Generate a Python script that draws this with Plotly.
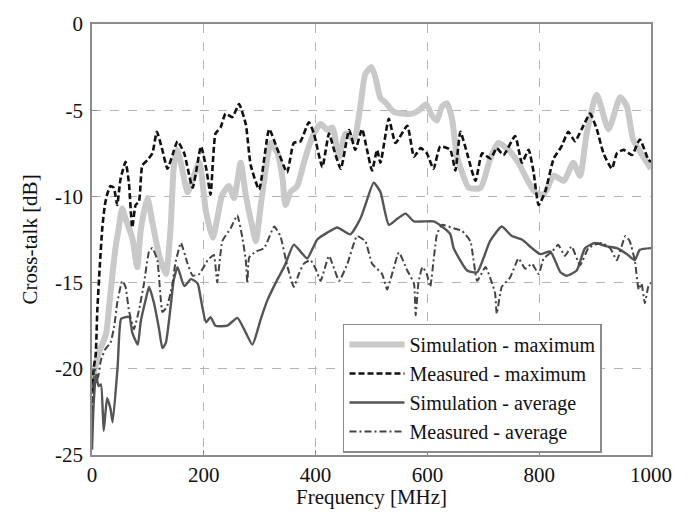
import plotly.graph_objects as go

# ---- data ----
sim_max_f = [0, 5, 13, 25, 30, 36, 42, 48, 54, 60,
             72, 81, 87, 99, 108, 120, 132, 141, 146, 152,
             159, 171, 180, 192, 204, 216, 224, 233, 245, 254,
             266, 275, 287, 293, 302, 314, 320, 332, 341, 346,
             355, 367, 379, 388, 397, 409, 421, 430, 442, 454,
             468, 480, 489, 500, 507, 516, 525, 540, 558, 573,
             585, 598, 608, 617, 626, 635, 644, 653, 662, 674,
             695, 712, 727, 745, 763, 778, 793, 808, 826, 844,
             861, 873, 885, 903, 924, 945, 957, 968, 986, 1000]
sim_max_db = [-21, -20, -19, -18, -16.6, -14.7, -13, -11.8, -10.7, -11.3,
              -12.4, -14.1, -12.0, -10.1, -11.5, -13.4, -14.5, -11.6, -8.4, -7.3,
              -8.05, -9.75, -9.0, -8.05, -10.9, -12.4, -11.3, -9.9, -9.4, -10.1,
              -8.05, -9.9, -11.8, -12.6, -10.5, -7.7, -6.9, -7.5, -9.0, -10.5,
              -9.75, -9.4, -8.05, -7.1, -6.35, -5.8, -6.15, -6.0, -7.7, -6.35,
              -6.7, -4.8, -2.9, -2.5, -3.1, -4.3, -4.55, -5.1, -5.2, -5.2,
              -5.0, -4.65, -5.3, -5.6, -4.8, -4.6, -5.5, -7.7, -8.6, -9.5,
              -9.5, -7.85, -6.9, -7.3, -8.05, -9.0, -9.75, -9.9, -8.8, -9.1,
              -8.05, -8.8, -6.35, -4.1, -6.1, -4.25, -4.8, -6.7, -7.7, -8.4]

meas_max_f = [0, 3, 6.6, 9.5, 14, 18.5, 23, 27, 33, 39,
              45, 51, 60, 66, 72, 78, 84, 90, 99, 108,
              116, 125, 135, 144, 153, 165, 180, 195, 205, 212,
              221, 230, 239, 251, 263, 275, 284, 299, 317, 332,
              349, 361, 373, 388, 397, 412, 424, 433, 445, 460,
              471, 483, 492, 501, 510, 516, 531, 543, 564, 576,
              588, 599, 611, 623, 641, 650, 659, 671, 686, 698,
              713, 724, 736, 757, 769, 781, 790, 799, 811, 826,
              840, 852, 864, 876, 891, 903, 915, 930, 939, 951,
              966, 980, 995, 1000]
meas_max_db = [-23, -20, -19.2, -16.6, -14, -11.8, -10.5, -9.9, -9.4, -9.5,
               -10.5, -9.0, -8.0, -9.2, -11.8, -10.5, -10.3, -8.2, -7.9, -7.5,
               -6.25, -7.2, -8.4, -7.6, -6.8, -7.5, -9.5, -7.1, -8.5, -9.9,
               -6.35, -6.0, -5.2, -5.4, -4.65, -5.8, -8.2, -9.6, -6.1, -7.3,
               -8.6, -6.9, -6.8, -5.7, -6.35, -8.3, -6.35, -7.3, -8.4, -6.15,
               -7.3, -6.1, -7.3, -8.5, -7.3, -8.05, -5.5, -6.9, -5.9, -7.7,
               -7.2, -7.5, -8.4, -7.1, -7.3, -8.5, -6.25, -7.5, -9.1, -7.5,
               -7.8, -7.2, -7.6, -6.5, -8.05, -7.3, -8.6, -10.5, -9.7, -7.8,
               -7.1, -6.25, -6.8, -6.1, -5.2, -6.1, -7.5, -8.4, -7.5, -7.3,
               -7.6, -6.7, -7.85, -8.0]

sim_avg_f = [0, 3, 7, 12, 16, 21, 27, 33, 37, 46,
             52, 60, 67, 72, 82, 87, 96, 102, 111, 120,
             126, 132, 141, 146, 153, 165, 177, 189, 195, 204,
             212, 221, 242, 260, 272, 287, 302, 314, 332, 345,
             361, 373, 385, 403, 421, 439, 462, 480, 489, 504,
             516, 531, 546, 561, 576, 594, 611, 626, 641, 647,
             671, 689, 712, 733, 751, 769, 787, 802, 820, 838,
             849, 867, 882, 900, 921, 939, 957, 971, 980, 1000]
sim_avg_db = [-24.7, -22, -20.4, -21, -20.9, -23.6, -21.7, -22.3, -23.1, -19.8,
              -17.1, -17.0, -17.0, -17.9, -18.6, -17.3, -16.0, -15.25, -16.2, -17.7,
              -18.8, -18.5, -16.3, -14.9, -14.1, -15.2, -14.8, -15.05, -16.0, -17.3,
              -17.0, -17.5, -17.5, -17.05, -17.7, -18.6, -17.1, -16.0, -14.8, -14.0,
              -12.8, -13.2, -13.6, -12.5, -12.1, -11.8, -12.2, -11.3, -10.5, -9.2,
              -9.75, -11.65, -11.3, -11.0, -11.45, -11.45, -11.45, -11.75, -12.2, -13.0,
              -14.3, -14.4, -12.6, -11.75, -12.3, -12.5, -13.0, -13.35, -13.2, -14.4,
              -14.6, -14.3, -13.0, -12.7, -12.9, -13.0, -13.35, -13.7, -13.1, -13.0]

meas_avg_f = [0, 5, 10, 16, 24, 33, 40, 45, 54, 60,
              66, 75, 84, 93, 102, 108, 117, 126, 134, 143,
              149, 159, 171, 180, 192, 207, 218, 224, 233, 248,
              260, 269, 275, 278, 281, 293, 308, 326, 337, 349,
              361, 370, 379, 391, 400, 409, 424, 442, 457, 474,
              489, 501, 519, 528, 549, 564, 576, 579, 584, 591,
              599, 605, 617, 626, 647, 662, 677, 689, 704, 721,
              724, 733, 748, 763, 775, 787, 799, 808, 823, 834,
              846, 858, 873, 888, 900, 912, 927, 939, 954, 962,
              971, 978, 983, 989, 995, 1000]
meas_avg_db = [-22, -20, -20.6, -19.5, -18.85, -18.5, -17.5, -16.2, -14.9, -15.25,
               -16.6, -17.7, -16.6, -15.05, -13.2, -13.0, -13.7, -16.7, -16.4, -15.25,
               -13.9, -12.7, -13.9, -14.6, -14.5, -13.7, -13.4, -15.0, -12.6, -11.85,
               -11.1, -12.4, -13.7, -15.05, -13.55, -13.2, -13.0, -11.75, -12.3, -14.0,
               -15.25, -14.5, -13.9, -13.7, -14.2, -14.9, -13.45, -14.9, -13.9, -12.3,
               -12.6, -13.9, -14.5, -15.4, -13.25, -14.3, -15.05, -16.9, -15.0, -14.1,
               -14.5, -15.25, -12.2, -11.65, -11.85, -12.0, -12.6, -14.9, -14.1, -15.6,
               -16.8, -15.25, -14.7, -13.6, -14.2, -13.9, -14.5, -13.6, -13.2, -12.8,
               -13.45, -12.9, -14.0, -13.0, -12.8, -12.7, -13.0, -13.7, -12.3, -12.6,
               -13.7, -15.4, -15.05, -16.2, -15.25, -15.0]

x_ticks = [0, 200, 400, 600, 800, 1000]
y_ticks = [-25, -20, -15, -10, -5, 0]

FONT = "Liberation Serif"

fig = go.Figure()
fig.add_trace(go.Scatter(x=sim_max_f, y=sim_max_db, mode="lines",
                         name="Simulation - maximum",
                         line=dict(color="#c9c9c9", width=6, shape="spline", smoothing=0.6)))
fig.add_trace(go.Scatter(x=meas_max_f, y=meas_max_db, mode="lines",
                         name="Measured - maximum",
                         line=dict(color="#111111", width=2.6, dash="6px,3px",
                                   shape="spline", smoothing=0.5)))
fig.add_trace(go.Scatter(x=sim_avg_f, y=sim_avg_db, mode="lines",
                         name="Simulation - average",
                         line=dict(color="#555555", width=2.4, shape="spline", smoothing=0.5)))
fig.add_trace(go.Scatter(x=meas_avg_f, y=meas_avg_db, mode="lines",
                         name="Measured - average",
                         line=dict(color="#444444", width=2, dash="7px,3px,2px,3px",
                                   shape="spline", smoothing=0.4)))

axis_common = dict(showline=True, mirror=True, linecolor="#8c8c8c", linewidth=1.5,
                   showgrid=True, gridcolor="#b4b4b4", griddash="dash", gridwidth=1,
                   zeroline=False, ticks="inside", ticklen=5, tickcolor="#8c8c8c",
                   tickfont=dict(family=FONT, size=21, color="#111111"))

fig.update_xaxes(range=[0, 1000], tickvals=x_ticks, ticktext=[str(v) for v in x_ticks],
                 **axis_common)
fig.update_yaxes(range=[-25, 0], tickvals=y_ticks, ticktext=[str(v) for v in y_ticks],
                 ticklabelstandoff=3, **axis_common)

fig.add_annotation(text="Frequency [MHz]", xref="paper", yref="paper",
                   x=0.5, y=-0.098, xanchor="center", yanchor="middle", showarrow=False,
                   font=dict(family=FONT, size=21, color="#111111"))
fig.add_annotation(text="Cross-talk [dB]", xref="paper", yref="paper",
                   x=-0.111, y=0.5, xanchor="center", yanchor="middle", showarrow=False,
                   textangle=-90, font=dict(family=FONT, size=21, color="#111111"))

fig.update_layout(
    width=688, height=518,
    margin=dict(l=92, r=37, t=15, b=63),
    paper_bgcolor="white", plot_bgcolor="white",
    font=dict(family=FONT, size=21, color="#111111"),
    legend=dict(x=0.449, y=0.305, xanchor="left", yanchor="top",
                bgcolor="white", bordercolor="#8c8c8c", borderwidth=1.5,
                font=dict(family=FONT, size=20, color="#111111"),
                itemwidth=55, tracegroupgap=0),
    showlegend=True,
)

fig.write_html("out.html")
